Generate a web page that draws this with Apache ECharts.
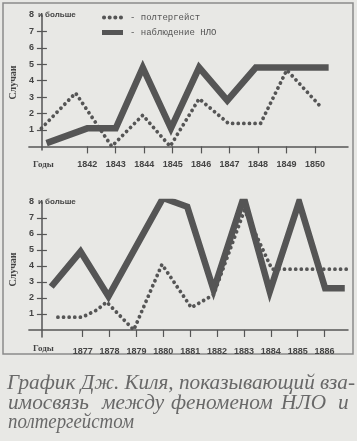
<!DOCTYPE html>
<html>
<head>
<meta charset="utf-8">
<script src="https://cdn.jsdelivr.net/npm/echarts@6/dist/echarts.min.js"></script>
<style>
  html, body { margin: 0; padding: 0; background: #e8e8e5; }
  #main { width: 357px; height: 441px; }
</style>
</head>
<body>
<div id="main"></div>
<script>
// 1840-e годы
var topYears = [1842, 1843, 1844, 1845, 1846, 1847, 1848, 1849, 1850];
var ufoTopYears = [1840.57, 1842, 1843, 1843.95, 1844.94, 1845.93, 1846.92, 1847.92, 1849, 1850, 1850.48];
var ufoTop = [0.2, 1.1, 1.1, 4.8, 1.1, 4.8, 2.8, 4.8, 4.8, 4.8, 4.8];
var poltTopYears = [1840.39, 1841.59, 1842.86, 1843.95, 1844.91, 1845.93, 1846.96, 1848.09, 1849.01, 1850.21];
var poltTop = [1.1, 3.25, 0, 1.9, 0, 2.9, 1.4, 1.4, 4.65, 2.4];

// 1870-80-e годы
var bottomYears = [1877, 1878, 1879, 1880, 1881, 1882, 1883, 1884, 1885, 1886];
var ufoBottomYears = [1875.83, 1876.92, 1877.96, 1879.99, 1880.89, 1881.87, 1882.99, 1883.96, 1885.05, 1886.02, 1886.75];
var ufoBottom = [2.7, 4.9, 2.1, 8.25, 7.7, 2.5, 8.3, 2.4, 8.0, 2.6, 2.6];
var poltBottomYears = [1876.08, 1876.99, 1877.53, 1877.89, 1878.9, 1879.95, 1881.04, 1881.87, 1883.02, 1884.04, 1886.82];
var poltBottom = [0.8, 0.8, 1.25, 1.75, 0, 4.1, 1.4, 2.2, 7.5, 3.8, 3.8];

var countTicks = [1, 2, 3, 4, 5, 6, 7, 8];
var topLabel = 'и больше';
var poltName = 'полтергейст';
var ufoName = 'наблюдение НЛО';

// подпись под рисунком
var captionLine1 = 'График Дж. Киля, показывающий вза-';
var captionLine2 = [['имосвязь', 8], ['между', 102], ['феноменом', 171], ['НЛО', 281], ['и', 338]];
var captionLine3 = 'полтергейстом';

var labelFont = { fontFamily: 'Liberation Sans', fontWeight: 'bold', fontSize: 9, color: '#444' };

function pairs(xs, ys) {
  return xs.map(function (x, i) { return [x, ys[i]]; });
}

function plain(v) { return String(v); }

function xAxisFor(idx, min, max, ticks) {
  return {
    type: 'value', gridIndex: idx, min: min, max: max,
    splitLine: { show: false },
    axisLine: { lineStyle: { color: '#555', width: 1.5 } },
    axisTick: { customValues: ticks, length: 7, lineStyle: { color: '#555', width: 1.2 } },
    axisLabel: Object.assign({ customValues: ticks, margin: 10, formatter: plain }, labelFont)
  };
}

function yAxesFor(idx, min) {
  return [{
    type: 'value', gridIndex: idx, position: 'left', min: min, max: 8, offset: -13,
    splitLine: { show: false },
    axisLine: { lineStyle: { color: '#555', width: 1.5 } },
    axisTick: { customValues: countTicks.slice(0, 7), length: 5, lineStyle: { color: '#555', width: 1.2 } },
    axisLabel: Object.assign({ customValues: countTicks, margin: 8, formatter: plain }, labelFont),
    name: 'Случаи', nameLocation: 'middle', nameGap: 21,
    nameTextStyle: { fontFamily: 'Liberation Serif', fontWeight: 'bold', fontSize: 10, color: '#444' }
  }, {
    type: 'value', gridIndex: idx, position: 'left', min: min, max: 8, offset: -13,
    splitLine: { show: false },
    axisLine: { show: false },
    axisTick: { inside: true, customValues: countTicks.slice(0, 7), length: 5, lineStyle: { color: '#555', width: 1.2 } },
    axisLabel: { show: false },
    name: topLabel, nameLocation: 'end', nameGap: 0,
    nameTextStyle: { fontFamily: 'Liberation Sans', fontWeight: 'bold', fontSize: 8, color: '#444',
      align: 'left', verticalAlign: 'middle', padding: [0, 0, 0, -4] }
  }];
}

function ufoSeries(idx, xs, ys) {
  return {
    name: ufoName, type: 'line', xAxisIndex: idx, yAxisIndex: idx * 2,
    data: pairs(xs, ys), symbol: 'none', silent: true,
    itemStyle: { color: '#555' },
    lineStyle: { color: '#555', width: 6.5, join: 'miter' }
  };
}

function poltSeries(idx, xs, ys) {
  return {
    name: poltName, type: 'line', xAxisIndex: idx, yAxisIndex: idx * 2,
    data: pairs(xs, ys), symbol: 'none', silent: true,
    itemStyle: { color: '#555' },
    lineStyle: { color: '#555', width: 3.8, type: [0.01, 5.6], cap: 'round' }
  };
}

// первая строка растягивается на всю ширину, тот же масштаб для второй
var captionStyle = { fontFamily: 'Liberation Serif', fontStyle: 'italic', fontSize: 20, fill: '#686868' };
var ctx = document.createElement('canvas').getContext('2d');
ctx.font = 'italic 20px "Liberation Serif"';
function fit(txt, target, fallback) {
  var w = ctx.measureText(txt).width;
  return w > 0 ? target / w : fallback;
}
var sx = fit(captionLine1, 348, 1.1);
var sx3 = fit(captionLine3, 126, 1);
function captionText(txt, x, y, s) {
  return { type: 'text', x: x, y: y, scaleX: s, style: Object.assign({ text: txt }, captionStyle) };
}
var captionGraphics = [captionText(captionLine1, 7, 374, sx)]
  .concat(captionLine2.map(function (w) { return captionText(w[0], w[1], 394, sx); }))
  .concat([captionText(captionLine3, 8, 413, sx3)]);

var dotsIcon = 'path://M0,2a2,2 0 1,0 4,0a2,2 0 1,0 -4,0M5.5,2a2,2 0 1,0 4,0a2,2 0 1,0 -4,0' +
  'M11,2a2,2 0 1,0 4,0a2,2 0 1,0 -4,0M16.5,2a2,2 0 1,0 4,0a2,2 0 1,0 -4,0';

var option = {
  backgroundColor: '#e8e8e5',
  animation: false,
  grid: [
    { left: 20, top: 15, width: 328, height: 135 },
    { left: 20, top: 202, width: 328, height: 135 }
  ],
  xAxis: [
    xAxisFor(0, 1839.95, 1851.16, topYears),
    xAxisFor(1, 1875, 1886.87, bottomYears)
  ],
  yAxis: yAxesFor(0, -0.22).concat(yAxesFor(1, -0.44)),
  legend: {
    data: [{ name: poltName, icon: dotsIcon }, { name: ufoName, icon: 'rect' }],
    orient: 'vertical', left: 97, top: 8,
    itemWidth: 21, itemHeight: 5, itemGap: 6,
    selectedMode: false,
    formatter: '- {name}',
    textStyle: { fontFamily: 'Liberation Mono', fontSize: 9, color: '#555', padding: [0, 0, 0, 2] }
  },
  series: [
    ufoSeries(0, ufoTopYears, ufoTop),
    poltSeries(0, poltTopYears, poltTop),
    ufoSeries(1, ufoBottomYears, ufoBottom),
    poltSeries(1, poltBottomYears, poltBottom)
  ],
  graphic: [
    { type: 'rect', shape: { x: 3, y: 3, width: 350, height: 351 }, style: { fill: 'none', stroke: '#8a8a8a', lineWidth: 1.5 } },
    { type: 'text', left: 33, top: 160, style: { text: 'Годы', fontFamily: 'Liberation Serif', fontWeight: 'bold', fontSize: 9, fill: '#444' } },
    { type: 'text', left: 33, top: 344, style: { text: 'Годы', fontFamily: 'Liberation Serif', fontWeight: 'bold', fontSize: 9, fill: '#444' } }
  ].concat(captionGraphics)
};

echarts.init(document.getElementById('main')).setOption(option);
</script>
</body>
</html>
